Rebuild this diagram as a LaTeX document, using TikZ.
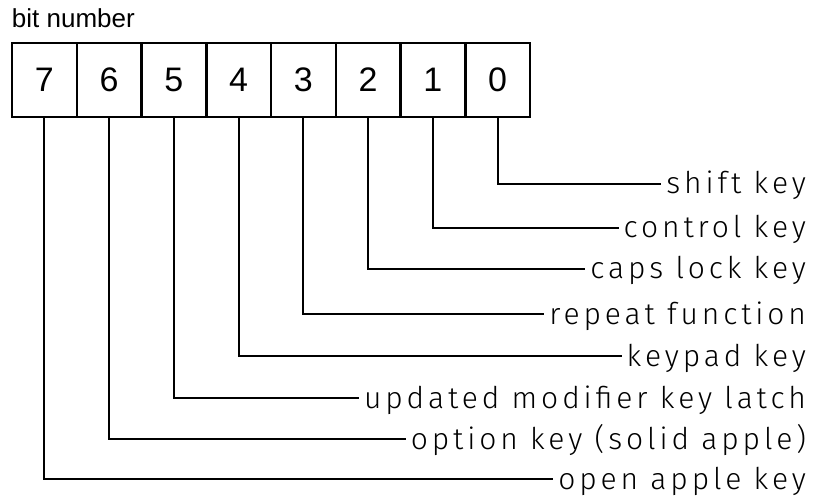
\documentclass[tikz,border=0pt]{standalone}
\usepackage{fontspec}
\setmainfont{Liberation Sans}
\newfontfamily\keyfont[LetterSpace=13]{Fira Sans Light}
\begin{document}
\begin{tikzpicture}[x=1pt,y=-1pt,
  cell/.style={draw=black,line width=2.5pt,minimum width=64.75pt,minimum height=74pt,inner sep=0pt,font=\fontsize{34}{34}\selectfont},
  keylbl/.style={anchor=east,inner sep=4pt,text height=20pt,text depth=0pt,font=\keyfont\fontsize{30}{30}\selectfont},
  every path/.style={line width=2pt}]
  \useasboundingbox (0,0) rectangle (817,497);

  % Titel
  \node[anchor=base west,inner sep=0pt,font=\fontsize{26}{26}\selectfont] (title) at (11,28) {bit number};

  % Bitfelder 7 ... 0
  \foreach \b in {0,...,7}
    \node[cell] (b\b) at ({530-64.75*(\b+0.5)},80) {\b};

  % Bedeutung der Bits
  \node[keylbl] (k0) at (811,184) {shift key};
  \node[keylbl] (k1) at (811,228) {control key};
  \node[keylbl] (k2) at (811,269) {caps lock key};
  \node[keylbl] (k3) at (811,314) {repeat function};
  \node[keylbl] (k4) at (811,356) {keypad key};
  \node[keylbl] (k5) at (811,398) {updated modifier key latch};
  \node[keylbl] (k6) at (811,439) {option key (solid apple)};
  \node[keylbl] (k7) at (811,479) {open apple key};

  % Verbindungen
  \foreach \b in {0,...,7}
    \draw (b\b.south) |- (k\b.west);
\end{tikzpicture}
\end{document}
